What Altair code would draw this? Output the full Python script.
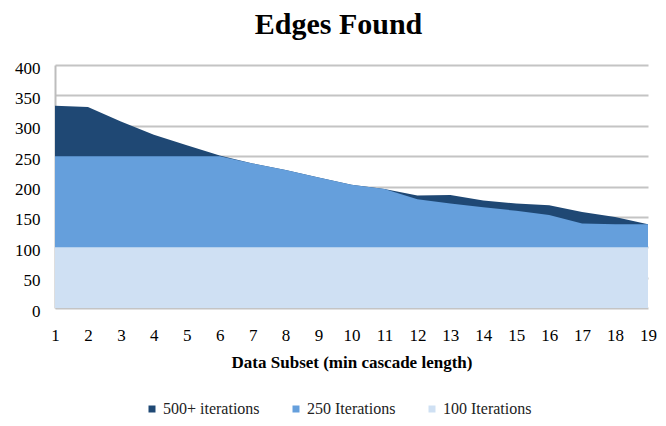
import altair as alt
import pandas as pd

subset = list(range(1, 20))
it500 = [333, 331, 307, 285, 268, 251, 238, 227, 215, 203, 196, 185, 186, 177, 172, 169, 158, 150, 138]
it250 = [250, 250, 250, 250, 250, 250, 238, 227, 215, 203, 196, 179, 172, 166, 160, 153, 139, 138, 138]
it100 = [100, 100, 100, 100, 100, 100, 100, 100, 100, 100, 100, 100, 100, 100, 100, 100, 100, 100, 100]
series_names = ["500+ iterations", "250 Iterations", "100 Iterations"]
series_colors = ["#1F4874", "#659FDC", "#CFE0F3"]
y_ticks = [0, 50, 100, 150, 200, 250, 300, 350, 400]

rows = []
for name, vals in zip(series_names, [it500, it250, it100]):
    for x, v in zip(subset, vals):
        rows.append({"subset": x, "edges": v, "series": name})
df = pd.DataFrame(rows)

FONT = "Liberation Serif"

color = alt.Color(
    "series:N",
    scale=alt.Scale(domain=series_names, range=series_colors),
    sort=series_names,
    legend=alt.Legend(
        title=None,
        orient="none",
        direction="horizontal",
        legendX=89,
        legendY=336,
        symbolType="square",
        symbolSize=49,
        symbolStrokeWidth=0,
        labelFont=FONT,
        labelFontSize=16,
        labelColor="#222222",
        labelOffset=3,
        labelLimit=300,
        columnPadding=28,
        padding=0,
    ),
)

x = alt.X(
    "subset:Q",
    scale=alt.Scale(domain=[1, 19], nice=False, zero=False),
    axis=alt.Axis(
        values=subset,
        title="Data Subset (min cascade length)",
        titleFont=FONT,
        titleFontSize=17,
        titleFontWeight="bold",
        titleColor="#000000",
        titleBaseline="alphabetic",
        titleY=59,
        labelFont=FONT,
        labelFontSize=17,
        labelColor="#000000",
        labelBaseline="alphabetic",
        labelPadding=32,
        labelFlush=False,
        labelOverlap=False,
        ticks=False,
        tickSize=0,
        domain=False,
        grid=False,
    ),
)

y = alt.Y(
    "edges:Q",
    scale=alt.Scale(domain=[0, 400], nice=False),
    axis=alt.Axis(
        values=y_ticks,
        title=None,
        labelFont=FONT,
        labelFontSize=17,
        labelColor="#000000",
        labelPadding=15,
        labelOffset=3,
        ticks=False,
        tickSize=0,
        domain=True,
        domainColor="#BDBDBD",
        domainWidth=2,
        grid=True,
        gridColor="#C4C4C4",
        gridWidth=2,
    ),
)

base = alt.Chart(df)
layers = []
for name in series_names:
    layers.append(
        base.transform_filter(alt.datum.series == name)
        .mark_area(opacity=1, interpolate="linear")
        .encode(x=x, y=y, color=color)
    )

chart = (
    alt.layer(*layers)
    .properties(
        width=593,
        height=243,
        autosize=alt.AutoSizeParams(type="none"),
        padding={"left": 47, "top": 57, "right": 10, "bottom": 110},
        title=alt.TitleParams(
            "Edges Found",
            font=FONT,
            fontSize=30,
            fontWeight="bold",
            color="#000000",
            anchor="middle",
            frame="group",
            offset=19,
            dx=-13,
        ),
    )
    .configure_view(stroke=None)
)

chart.save("out.html", embed_options={"renderer": "svg", "actions": False})
